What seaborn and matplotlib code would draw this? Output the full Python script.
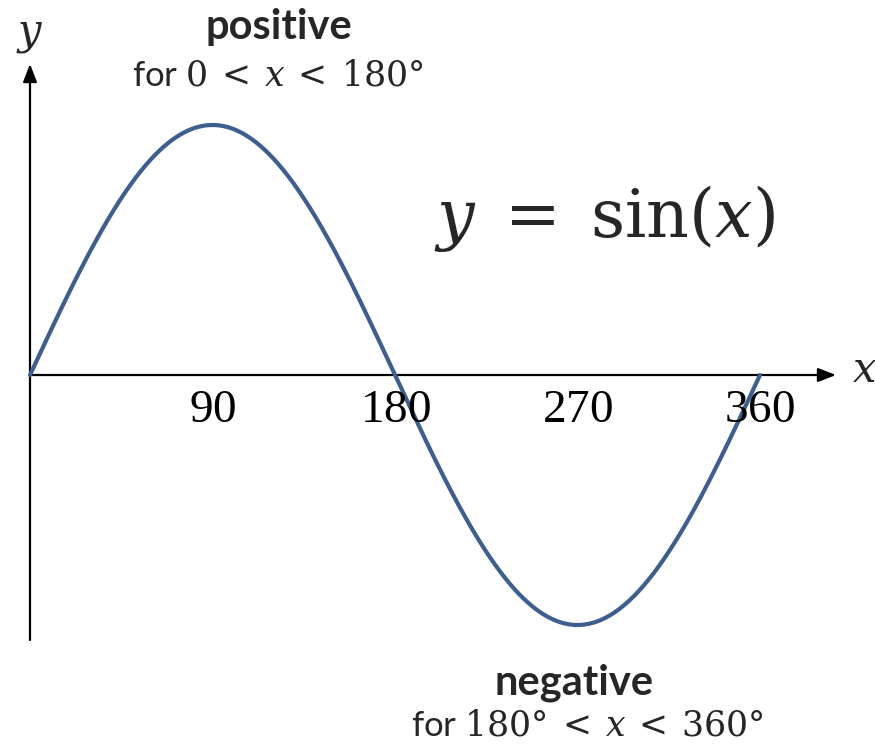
import numpy as np
import pandas as pd
import matplotlib
matplotlib.use("Agg")
import matplotlib.pyplot as plt
import seaborn as sns

sns.set_theme(style="white")
plt.rcParams["font.family"] = ["Lato", "DejaVu Sans"]
plt.rcParams["mathtext.fontset"] = "custom"
plt.rcParams["mathtext.rm"] = "Liberation Serif"
plt.rcParams["mathtext.it"] = "Liberation Serif:italic"
plt.rcParams["mathtext.bf"] = "Liberation Serif:bold"

# Angle in degrees and the sine of it
angle_deg = np.linspace(0, 360, 721)
sine_vals = np.sin(np.radians(angle_deg))
tick_positions = [90, 180, 270, 360]
tick_labels = ["90", "180", "270", "360"]

df = pd.DataFrame({"angle": angle_deg, "value": sine_vals})

W, H = 875, 746
fig = plt.figure(figsize=(W / 100, H / 100), dpi=100)
ax = fig.add_axes([0, 0, 1, 1])

# pixel geometry of the drawing area
x0_px, y0_px = 30, 375
px_per_deg = 730 / 360
px_per_unit = 250
ax.set_xlim(-x0_px / px_per_deg, (W - x0_px) / px_per_deg)
ax.set_ylim(-(H - y0_px) / px_per_unit, y0_px / px_per_unit)
ax.axis("off")

curve_color = "#3c5f8f"
sns.lineplot(data=df, x="angle", y="value", ax=ax, color=curve_color,
             linewidth=3.0, zorder=3)

def deg(px):
    return (px - x0_px) / px_per_deg

def val(py):
    return (y0_px - py) / px_per_unit

arrow = dict(arrowstyle="-|>,head_length=0.9,head_width=0.35", color="black",
             lw=1.6, shrinkA=0, shrinkB=0)
# x axis
ax.annotate("", xy=(deg(836), 0), xytext=(0, 0), arrowprops=arrow, zorder=2)
# y axis
ax.annotate("", xy=(0, val(64)), xytext=(0, val(640)), arrowprops=arrow, zorder=2)

# tick labels
for pos, lab in zip(tick_positions, tick_labels):
    ax.text(pos, val(409), "$\\mathrm{" + lab + "}$", ha="center", va="center",
            fontsize=34, color="black", zorder=4)

# axis names
ax.text(deg(30), val(36), "$y$", ha="center", va="center", fontsize=30,
        math_fontfamily="dejavuserif")
ax.text(deg(864), val(370), "$x$", ha="center", va="center", fontsize=30,
        math_fontfamily="dejavuserif")

# equation
ax.text(deg(605), val(218), "$y\\;=\\;\\mathrm{sin}(x)$", ha="center", va="center",
        fontsize=48, math_fontfamily="dejavuserif")

# sign annotations
ax.text(deg(279), val(27), "positive", ha="center", va="center", fontsize=30,
        fontweight="bold")
ax.text(deg(278), val(76), "for $0\\:<\\:x\\:<\\:180°$", ha="center", va="center",
        fontsize=25, math_fontfamily="dejavuserif")
ax.text(deg(574), val(683), "negative", ha="center", va="center", fontsize=30,
        fontweight="bold")
ax.text(deg(587), val(725), "for $180°\\:<\\:x\\:<\\:360°$", ha="center",
        va="center", fontsize=25, math_fontfamily="dejavuserif")

fig.savefig("out.png", dpi=100)
